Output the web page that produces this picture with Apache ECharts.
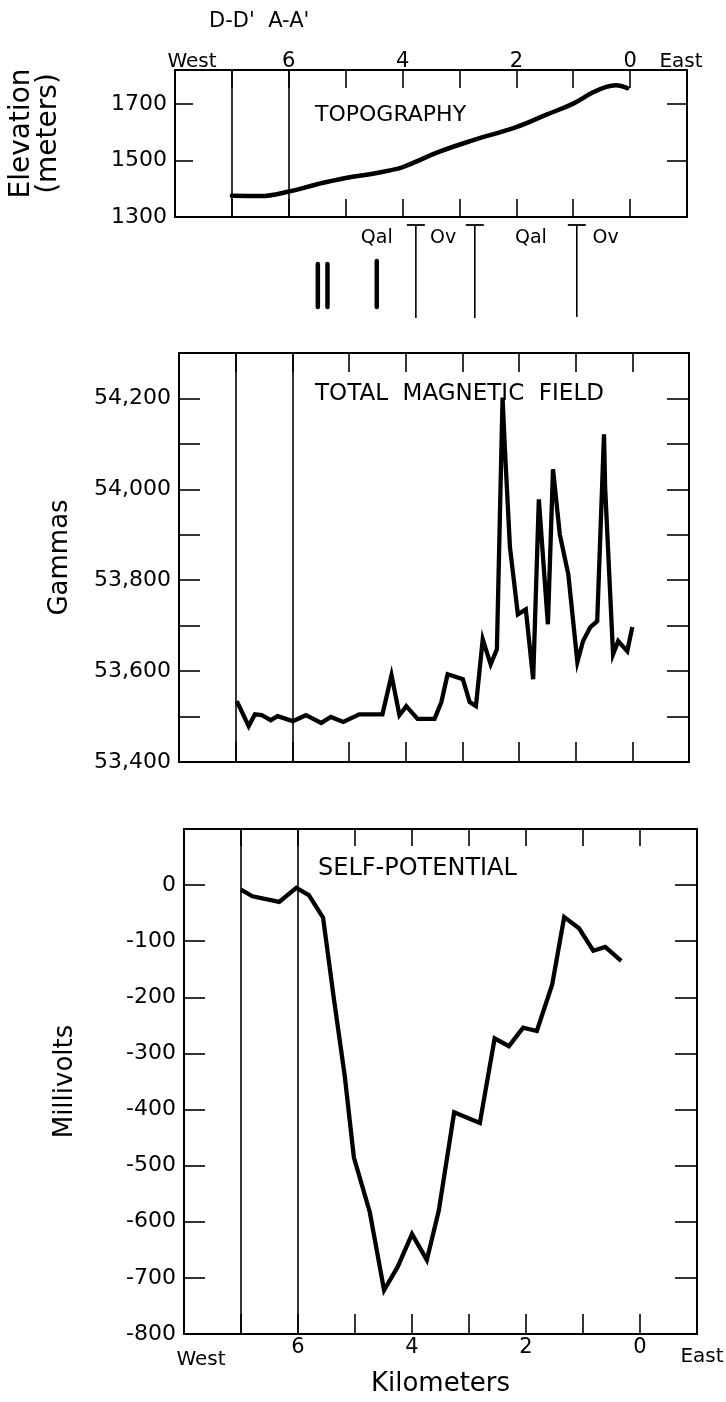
<!DOCTYPE html>
<html>
<head>
<meta charset="utf-8">
<script src="https://cdn.jsdelivr.net/npm/echarts@6/dist/echarts.min.js"></script>
<style>
html,body{margin:0;padding:0;background:#fff;}
#chart{width:726px;height:1402px;}
</style>
</head>
<body>
<div id="chart"></div>
<script>
// ---------- DATA ----------
const topoKm   = [7.0, 6.5, 6.0, 5.5, 5.0, 4.5, 4.2, 4.0, 3.35, 2.77, 2.0, 1.47, 1.0, 0.66, 0.42, 0.25, 0.05];
const topoElev = [1375, 1374, 1390, 1416, 1438, 1454, 1466, 1476, 1531, 1571, 1618, 1662, 1701, 1740, 1760, 1766, 1756];

const magKm    = [6.98, 6.77, 6.66, 6.54, 6.38, 6.26, 5.99, 5.76, 5.49, 5.32, 5.10, 4.82, 4.41, 4.25, 4.11, 3.99, 3.79, 3.49, 3.37, 3.26,
                  2.99, 2.87, 2.76, 2.64, 2.50, 2.39, 2.29, 2.25, 2.16, 2.02, 1.88, 1.75, 1.65, 1.49, 1.40, 1.28, 1.13, 0.97, 0.87, 0.74,
                  0.62, 0.50, 0.48, 0.34, 0.25, 0.09, 0.00];
const magGamma = [53534, 53479, 53505, 53503, 53492, 53501, 53490, 53503, 53486, 53499, 53488, 53505, 53505, 53591, 53503, 53523, 53495, 53495, 53532, 53593,
                  53582, 53532, 53523, 53670, 53615, 53648, 54202, 54092, 53873, 53725, 53736, 53582, 53978, 53703, 54044, 53901, 53813, 53620, 53666, 53697,
                  53710, 54121, 54004, 53637, 53666, 53644, 53697];

const spKm = [7.0, 6.8, 6.33, 6.03, 5.81, 5.56, 5.37, 5.18, 5.02, 4.74, 4.49, 4.25, 4.0, 3.74, 3.53, 3.26, 2.81, 2.55, 2.30, 2.05, 1.81, 1.54, 1.33, 1.07, 0.82, 0.61, 0.33];
const spMv = [-8, -20, -30, -5, -18, -58, -203, -340, -485, -583, -722, -680, -622, -668, -580, -405, -424, -273, -287, -254, -260, -177, -57, -77, -117, -110, -135];

const sectionKm    = [7, 6];
const sectionNames = ["D-D'", "A-A'"];

const faultBarKm     = [5.55, 5.38, 4.51];
const faultBarTop    = [56, 56, 59];
const faultBarBottom = [13, 13, 13];
const contactKm      = [3.82, 2.78, 0.98];
const contactTop     = [95, 95, 95];
const contactBottom  = [2, 2, 3];
const unitNames      = ['Qal', 'Ov', 'Qal', 'Ov'];
const unitKm         = [4.51, 3.34, 1.79, 0.47];
const unitLevel      = [82, 82, 82, 82];

const kmLabels = { 6: '6', 4: '4', 2: '2', 0: '0' };
const westLabel = 'West', eastLabel = 'East';

// ---------- CHART ----------
const FONT = 'DejaVu Sans';
const BLACK = '#000';
const chart = echarts.init(document.getElementById('chart'), null, { renderer: 'canvas' });

const zip = (a, b) => a.map((v, i) => [v, b[i]]);
const fmtComma = v => String(v).replace(/\B(?=(\d{3})+(?!\d))/g, ',');

function xAx(gi, pos, tickLen, label) {
  return {
    type: 'value', gridIndex: gi, position: pos, min: -1, max: 8, interval: 1, inverse: true,
    axisLine: { show: true, onZero: false, lineStyle: { color: BLACK, width: 2 } },
    axisTick: { show: true, inside: true, length: tickLen, lineStyle: { color: BLACK, width: 1.6 } },
    axisLabel: label || { show: false },
    splitLine: { show: false }
  };
}
function yAx(gi, pos, min, max, interval, tickLen, label, extra) {
  return Object.assign({
    type: 'value', gridIndex: gi, position: pos, min: min, max: max, interval: interval,
    axisLine: { show: true, onZero: false, lineStyle: { color: BLACK, width: 2 } },
    axisTick: { show: true, inside: true, length: tickLen, lineStyle: { color: BLACK, width: 1.6 } },
    axisLabel: label || { show: false },
    splitLine: { show: false }
  }, extra || {});
}
const richNum = { fontFamily: FONT, fontSize: 21, color: BLACK };
const kmFormatter = v => v === 8 ? '{w|' + westLabel + '}' : v === -1 ? '{e|' + eastLabel + '}' :
                         (kmLabels[v] !== undefined ? '{n|' + kmLabels[v] + '}' : '');

const topXLabel = {
  show: true, margin: -2, showMinLabel: true, showMaxLabel: true, formatter: kmFormatter,
  rich: {
    n: richNum,
    w: { fontFamily: FONT, fontSize: 20, color: BLACK, padding: [0, 0, 0, 34] },
    e: { fontFamily: FONT, fontSize: 20, color: BLACK, padding: [0, 12, 0, 0] }
  }
};
const bottomXLabel = {
  show: true, margin: 3, showMinLabel: true, showMaxLabel: true, formatter: kmFormatter,
  rich: {
    n: richNum,
    w: { fontFamily: FONT, fontSize: 20, color: BLACK, padding: [13, 0, 0, 34] },
    e: { fontFamily: FONT, fontSize: 20, color: BLACK, padding: [10, 0, 0, 10] }
  }
};
const yLabelStyle = { show: true, margin: 8, fontFamily: FONT, fontSize: 22, color: BLACK, showMinLabel: true, showMaxLabel: true };
const nameStyle = { fontFamily: FONT, fontSize: 26, color: BLACK };

function vLines(withLabels) {
  return {
    silent: true, symbol: ['none', 'none'], animation: false,
    lineStyle: { type: 'solid', color: BLACK, width: 1.6 },
    label: { show: false },
    data: sectionKm.map((k, i) => ({
      xAxis: k,
      label: withLabels ? { show: true, position: 'end', distance: 38, formatter: sectionNames[i],
                            fontFamily: FONT, fontSize: 21, color: BLACK } : { show: false }
    }))
  };
}

const titleStyle = (size) => ({ fontFamily: FONT, fontSize: size, fontWeight: 'normal', color: BLACK });

const option = {
  animation: false,
  backgroundColor: '#fff',
  title: [
    { text: 'TOPOGRAPHY', left: 310, top: 99, textStyle: titleStyle(22) },
    { text: 'TOTAL  MAGNETIC  FIELD', left: 310, top: 378, textStyle: titleStyle(23) },
    { text: 'SELF-POTENTIAL', left: 313, top: 852, textStyle: titleStyle(24) }
  ],
  grid: [
    { left: 175, right: 39, top: 70, height: 147, outerBoundsMode: 'none', containLabel: false },
    { left: 179, right: 37, top: 353, height: 409, outerBoundsMode: 'none', containLabel: false },
    { left: 184, right: 29, top: 829, height: 505, outerBoundsMode: 'none', containLabel: false },
    { left: 179, right: 37, top: 220, height: 100, outerBoundsMode: 'none', containLabel: false }
  ],
  xAxis: [
    xAx(0, 'bottom', 18),
    xAx(0, 'top', 18, topXLabel),
    xAx(1, 'bottom', 20),
    xAx(1, 'top', 19),
    Object.assign(xAx(2, 'bottom', 20, bottomXLabel), {
      name: 'Kilometers', nameLocation: 'middle', nameGap: 31, nameTextStyle: nameStyle }),
    xAx(2, 'top', 17),
    { type: 'value', gridIndex: 3, min: -1, max: 8, inverse: true, show: false }
  ],
  yAxis: [
    yAx(0, 'left', 1300, 1820, 200, 18,
        Object.assign({}, yLabelStyle, { formatter: v => ((v - 1300) % 200 === 0 ? String(v) : '') }),
        { name: 'Elevation\n(meters)', nameLocation: 'middle', nameRotate: 90, nameGap: 113,
          nameTextStyle: Object.assign({}, nameStyle, { fontSize: 28, lineHeight: 27, padding: [0, 0, 0, 20] }) }),
    yAx(0, 'right', 1300, 1820, 200, 20),
    yAx(1, 'left', 53400, 54300, 100, 21,
        Object.assign({}, yLabelStyle, { formatter: v => ((v - 53400) % 200 === 0 ? fmtComma(v) : '') }),
        { name: 'Gammas', nameLocation: 'middle', nameRotate: 90, nameGap: 106, nameTextStyle: nameStyle }),
    yAx(1, 'right', 53400, 54300, 100, 22),
    yAx(2, 'left', -800, 100, 100, 21,
        Object.assign({}, yLabelStyle, { formatter: v => (v <= 0 ? String(v) : '') }),
        { name: 'Millivolts', nameLocation: 'middle', nameRotate: 90, nameGap: 106, nameTextStyle: nameStyle }),
    yAx(2, 'right', -800, 100, 100, 22),
    { type: 'value', gridIndex: 3, min: 0, max: 100, show: false }
  ],
  series: [
    {
      name: 'Topography', type: 'line', xAxisIndex: 0, yAxisIndex: 0,
      data: zip(topoKm, topoElev), smooth: 0.4, symbol: 'none',
      lineStyle: { color: BLACK, width: 4.5, cap: 'round' },
      markLine: vLines(true)
    },
    {
      name: 'Total magnetic field', type: 'line', xAxisIndex: 2, yAxisIndex: 2,
      data: zip(magKm, magGamma), symbol: 'none',
      lineStyle: { color: BLACK, width: 4.3, join: 'miter' },
      markLine: vLines(false)
    },
    {
      name: 'Self-potential', type: 'line', xAxisIndex: 4, yAxisIndex: 4,
      data: zip(spKm, spMv), symbol: 'none',
      lineStyle: { color: BLACK, width: 4.3, join: 'miter' },
      markLine: vLines(false)
    },
    {
      name: 'Faults', type: 'custom', xAxisIndex: 6, yAxisIndex: 6, silent: true,
      data: faultBarKm.map((k, i) => [k, faultBarTop[i], faultBarBottom[i]]),
      renderItem: (params, api) => {
        const p1 = api.coord([api.value(0), api.value(1)]);
        const p2 = api.coord([api.value(0), api.value(2)]);
        return { type: 'line', shape: { x1: p1[0], y1: p1[1], x2: p2[0], y2: p2[1] },
                 style: { stroke: BLACK, lineWidth: 4.5, lineCap: 'round' } };
      }
    },
    {
      name: 'Contacts', type: 'custom', xAxisIndex: 6, yAxisIndex: 6, silent: true,
      data: contactKm.map((k, i) => [k, contactTop[i], contactBottom[i]]),
      renderItem: (params, api) => {
        const p1 = api.coord([api.value(0), api.value(1)]);
        const p2 = api.coord([api.value(0), api.value(2)]);
        return { type: 'group', children: [
          { type: 'line', shape: { x1: p1[0], y1: p1[1], x2: p2[0], y2: p2[1] }, style: { stroke: BLACK, lineWidth: 1.6 } },
          { type: 'line', shape: { x1: p1[0] - 9, y1: p1[1], x2: p1[0] + 9, y2: p1[1] }, style: { stroke: BLACK, lineWidth: 1.8 } }
        ] };
      }
    },
    {
      name: 'Units', type: 'custom', xAxisIndex: 6, yAxisIndex: 6, silent: true,
      data: unitKm.map((k, i) => [k, unitLevel[i], unitNames[i]]),
      renderItem: (params, api) => {
        const p = api.coord([api.value(0), api.value(1)]);
        return { type: 'text', x: p[0], y: p[1],
                 style: { text: unitNames[params.dataIndex], fill: BLACK, font: '19px "DejaVu Sans"',
                          align: 'center', verticalAlign: 'middle' } };
      }
    }
  ]
};
chart.setOption(option);
</script>
</body>
</html>
